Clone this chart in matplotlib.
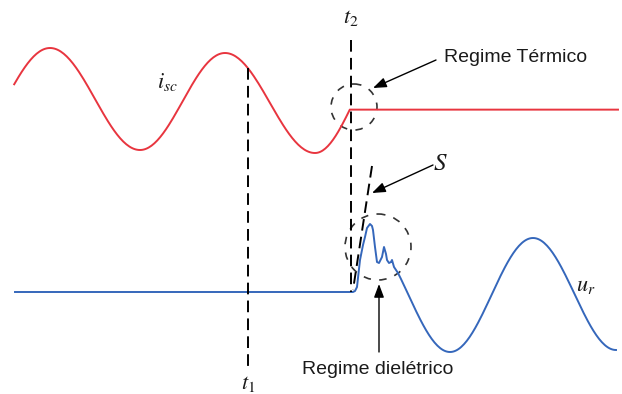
import numpy as np
import matplotlib.pyplot as plt
from matplotlib.patches import Circle

plt.rcParams["mathtext.fontset"] = "stix"

# short-circuit current i_sc: extrema (x, y) in drawing units, last half-wave cut at t2
isc_ext_x = [-38, 50, 140, 225, 315, 391]
isc_ext_y = [150, 48, 150, 53, 153, 53]
isc_start = 13
isc_end = 618

# recovery voltage u_r: extrema of the oscillation after the dielectric stage
ur_ext_x = [367, 450, 533, 616]
ur_ext_y = [238, 352, 238, 350]
ur_base_y = 292
ur_start = 15

# dielectric transient right after current zero
ur_spike_x = [353, 355, 357, 360, 363, 365, 367, 370, 372, 373, 375, 377, 379, 382, 384,
              386, 387, 389, 391, 392, 394, 396, 398]
ur_spike_y = [292, 291, 287, 260, 245, 237, 228, 224, 226, 230, 247, 262, 263, 257, 247,
              254, 260, 263, 262, 260, 267, 270, 273]

t1_x = 248
t2_x = 351

RED = "#e8353f"
BLUE = "#3567bb"


def half_waves(ext_x, ext_y, x0, x1, n=60):
    """Join consecutive extrema with cosine half-waves and keep x0..x1."""
    xs, ys = [], []
    for i in range(len(ext_x) - 1):
        xa, xb = ext_x[i], ext_x[i + 1]
        ya, yb = ext_y[i], ext_y[i + 1]
        f = np.linspace(0, 1, n)
        xs.append(xa + (xb - xa) * f)
        ys.append(ya + (yb - ya) * (1 - np.cos(np.pi * f)) / 2)
    xs = np.concatenate(xs)
    ys = np.concatenate(ys)
    keep = (xs >= x0) & (xs <= x1)
    return xs[keep], ys[keep]


fig = plt.figure(figsize=(6.22, 3.94), dpi=100)
ax = fig.add_axes([0, 0, 1, 1])
ax.set_xlim(0, 622)
ax.set_ylim(394, 0)
ax.axis("off")

# current: sine until t2, then flat
xr, yr = half_waves(isc_ext_x, isc_ext_y, isc_start, t2_x)
y_t2 = np.interp(t2_x, xr, yr)
xr = np.append(xr, [t2_x, isc_end])
yr = np.append(yr, [y_t2, y_t2])
ax.plot(xr, yr, color=RED, lw=1.4)

# voltage: flat, transient, then oscillation
xb, yb = half_waves(ur_ext_x, ur_ext_y, ur_spike_x[-1], ur_ext_x[-1])
xv = np.concatenate([[ur_start], ur_spike_x, xb])
yv = np.concatenate([[ur_base_y], ur_spike_y, yb])
ax.plot(xv, yv, color=BLUE, lw=1.4)

# time markers
dash = dict(color="black", lw=1.4, dashes=(6, 3.2))
ax.plot([t1_x, t1_x], [np.interp(t1_x, xr, yr), 372], **dash)
ax.plot([t2_x, t2_x], [40, 292], **dash)
ax.plot([372, 353], [166, 290], **dash)

# highlighted regions
for cx, cy, r in [(354, 107, 23), (378, 247, 33)]:
    ax.add_patch(Circle((cx, cy), r, fill=False, ec="#333333", lw=1.2,
                        ls=(0, (4.5, 5))))

arrow = dict(arrowstyle="-|>,head_length=0.8,head_width=0.3", color="black", lw=1.0,
             shrinkA=0, shrinkB=0)
ax.annotate("", xy=(373, 88), xytext=(436, 60), arrowprops=arrow)
ax.annotate("", xy=(372, 193), xytext=(433, 165), arrowprops=arrow)
ax.annotate("", xy=(379, 284), xytext=(379, 352), arrowprops=arrow)

txt = dict(family="Liberation Sans", fontsize=14, color="#1a1a1a", va="center")
ax.text(444, 57, "Regime Térmico", ha="left", **txt)
ax.text(378, 370, "Regime dielétrico", ha="center", **txt)

math = dict(fontsize=16, color="#1a1a1a", va="center")
ax.text(t2_x, 18, r"$t_2$", ha="center", **math)
ax.text(t1_x, 384, r"$t_1$", ha="center", **math)
ax.text(157, 82, r"$i_{sc}$", ha="left", **math)
ax.text(576, 286, r"$u_r$", ha="left", **math)
ax.text(433, 163, r"$S$", ha="left", fontsize=18, color="#1a1a1a", va="center")

fig.savefig("out.png", dpi=100)
